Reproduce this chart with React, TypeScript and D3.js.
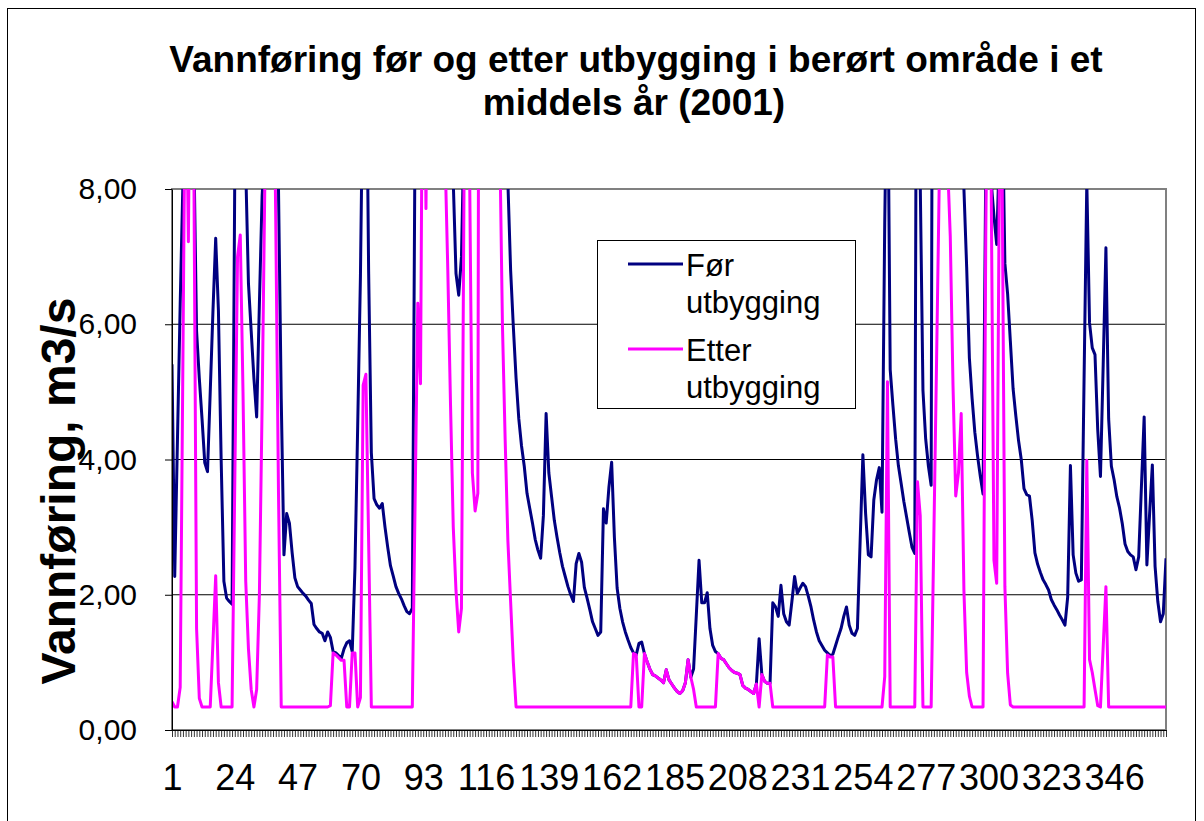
import React, { useRef, useEffect } from "react";
import * as d3 from "d3";

// tekst
const tittel = ["Vannføring før og etter utbygging i berørt område i et", "middels år (2001)"];
const yTittel = "Vannføring, m3/s";
const legendeTekst = [["Før", "utbygging"], ["Etter", "utbygging"]];
const yTicks = [0, 2, 4, 6, 8];
const xLabelStep = 23;

// døgnverdier, m3/s (dag 1..365), lest av figuren
const forUtbygging = [
  5.41, 2.27, 4.3, 6.3, 8.1, 11, 12, 13, 8.6, 5.9,
  5.2, 4.6, 3.95, 3.82, 5.0, 6.2, 7.27, 6.2, 4.0, 2.2,
  1.95, 1.9, 1.86, 8.3, 12, 13, 11, 8.3, 6.6, 5.9,
  5.2, 4.63, 6.3, 7.9, 8.6, 13, 14, 12, 10, 8.0,
  4.9, 2.59, 3.2, 3.06, 2.62, 2.25, 2.12, 2.07, 2.02, 1.98,
  1.92, 1.87, 1.56, 1.5, 1.45, 1.43, 1.32, 1.45, 1.37, 1.16,
  1.14, 1.1, 1.06, 1.2, 1.29, 1.32, 1.16, 2.4, 4.5, 6.7,
  10, 11, 6.8, 4.1, 3.42, 3.33, 3.28, 3.35, 3.0, 2.7,
  2.43, 2.28, 2.12, 2.02, 1.94, 1.84, 1.75, 1.72, 1.8, 8.8,
  14, 15, 13, 12, 14, 16, 15, 14, 13, 12,
  10, 9.5, 9, 8.1, 6.75, 6.43, 7.0, 9, 13, 14,
  15, 13, 16, 26, 17, 15, 14, 13, 12, 11,
  10.5, 10, 9, 8.1, 6.8, 5.96, 5.2, 4.6, 4.2, 3.9,
  3.5, 3.28, 3.06, 2.82, 2.66, 2.54, 3.17, 4.68, 3.8, 3.45,
  3.1, 2.85, 2.62, 2.42, 2.27, 2.12, 2.0, 1.9, 2.46, 2.61,
  2.48, 2.11, 1.95, 1.78, 1.6, 1.5, 1.4, 1.45, 3.27, 3.06,
  3.59, 3.96, 2.85, 2.1, 1.8, 1.6, 1.45, 1.33, 1.22, 1.14,
  1.11, 1.28, 1.3, 1.13, 1.01, 0.9, 0.82, 0.8, 0.77, 0.74,
  0.7, 0.89, 0.74, 0.68, 0.62, 0.57, 0.54, 0.58, 0.7, 1.04,
  0.78, 0.9, 1.7, 2.51, 1.88, 1.88, 2.03, 1.5, 1.25, 1.16,
  1.13, 1.06, 1.04, 0.98, 0.92, 0.88, 0.85, 0.84, 0.82, 0.66,
  0.62, 0.6, 0.57, 0.54, 0.68, 1.35, 0.82, 0.72, 0.69, 0.69,
  1.88, 1.82, 1.68, 2.14, 1.72, 1.6, 1.55, 1.9, 2.27, 2.02,
  2.1, 2.17, 2.12, 1.98, 1.82, 1.62, 1.45, 1.32, 1.25, 1.18,
  1.14, 1.1, 1.12, 1.25, 1.38, 1.5, 1.68, 1.82, 1.55, 1.43,
  1.4, 1.5, 2.8, 4.07, 3.2, 2.59, 2.56, 3.4, 3.7, 3.88,
  3.22, 7.5, 10.4, 5.33, 4.8, 4.3, 3.91, 3.65, 3.38, 3.15,
  2.92, 2.7, 2.61, 16, 8.1, 5.02, 4.3, 3.9, 3.62, 20,
  18, 16, 15, 14, 13, 12, 12, 11, 10, 9.5,
  8.0, 6.85, 5.5, 4.9, 4.4, 4.05, 3.75, 3.49, 8.3, 13,
  8.1, 7.6, 7.18, 8.6, 9.5, 6.9, 6.45, 5.75, 5.05, 4.65,
  4.28, 4.0, 3.57, 3.48, 3.46, 3.1, 2.62, 2.45, 2.33, 2.22,
  2.15, 2.07, 1.93, 1.85, 1.78, 1.7, 1.63, 1.55, 1.97, 3.91,
  2.59, 2.32, 2.2, 2.22, 5.2, 8.1, 6.02, 5.65, 5.55, 4.44,
  3.75, 5.4, 7.13, 4.6, 3.9, 3.7, 3.45, 3.28, 3.05, 2.75,
  2.64, 2.59, 2.56, 2.37, 2.56, 3.6, 4.63, 2.44, 3.2, 3.92,
  2.42, 1.9, 1.6, 1.72, 2.54,
];

const etterUtbygging = [
  0.42, 0.34, 0.34, 0.63, 5.5, 10.5, 7.22, 12, 8.4, 1.5,
  0.47, 0.34, 0.34, 0.34, 0.34, 1.3, 2.28, 0.7, 0.34, 0.34,
  0.34, 0.34, 0.34, 3.7, 7.0, 7.32, 5.0, 2.2, 1.2, 0.6,
  0.34, 0.6, 2.0, 4.8, 8.1, 12, 13, 11, 7.5, 3.5,
  0.34, 0.34, 0.34, 0.34, 0.34, 0.34, 0.34, 0.34, 0.34, 0.34,
  0.34, 0.34, 0.34, 0.34, 0.34, 0.34, 0.34, 0.34, 0.36, 1.14,
  1.11, 1.07, 1.03, 1.03, 0.34, 0.34, 1.14, 1.14, 0.34, 0.48,
  5.1, 5.26, 2.8, 0.34, 0.34, 0.34, 0.34, 0.34, 0.34, 0.34,
  0.34, 0.34, 0.34, 0.34, 0.34, 0.34, 0.34, 0.34, 0.34, 3.3,
  6.31, 5.12, 12, 7.71, 12, 14, 14, 13, 12, 11,
  8.5, 6.8, 4.8, 3.0, 2.06, 1.45, 1.8, 8.5, 12, 8.2,
  3.8, 3.24, 3.5, 25, 15, 14, 13, 12, 11, 10,
  8.8, 6.0, 4.3, 2.8, 1.9, 1.0, 0.34, 0.34, 0.34, 0.34,
  0.34, 0.34, 0.34, 0.34, 0.34, 0.34, 0.34, 0.34, 0.34, 0.34,
  0.34, 0.34, 0.34, 0.34, 0.34, 0.34, 0.34, 0.34, 0.34, 0.34,
  0.34, 0.34, 0.34, 0.34, 0.34, 0.34, 0.34, 0.34, 0.34, 0.34,
  0.34, 0.34, 0.34, 0.34, 0.34, 0.34, 0.34, 0.34, 0.34, 1.13,
  1.11, 0.34, 0.34, 1.13, 1.01, 0.9, 0.82, 0.8, 0.77, 0.74,
  0.7, 0.89, 0.74, 0.68, 0.62, 0.57, 0.54, 0.58, 0.7, 1.04,
  0.78, 0.6, 0.34, 0.34, 0.34, 0.34, 0.34, 0.34, 0.34, 0.34,
  1.13, 1.06, 1.04, 0.98, 0.92, 0.88, 0.85, 0.84, 0.82, 0.66,
  0.62, 0.6, 0.57, 0.54, 0.68, 0.34, 0.82, 0.72, 0.69, 0.69,
  0.34, 0.34, 0.34, 0.34, 0.34, 0.34, 0.34, 0.34, 0.34, 0.34,
  0.34, 0.34, 0.34, 0.34, 0.34, 0.34, 0.34, 0.34, 0.34, 0.34,
  1.11, 1.08, 1.08, 0.34, 0.34, 0.34, 0.34, 0.34, 0.34, 0.34,
  0.34, 0.34, 0.34, 0.34, 0.34, 0.34, 0.34, 0.34, 0.34, 0.34,
  0.34, 0.79, 5.15, 0.34, 0.34, 0.34, 0.34, 0.34, 0.34, 0.34,
  0.34, 0.34, 0.34, 3.67, 3.17, 0.34, 0.34, 0.34, 0.34, 2.9,
  5.5, 8.2, 12, 11, 8.4, 7.3, 5.1, 3.46, 3.8, 4.68,
  2.06, 0.85, 0.5, 0.34, 0.34, 0.34, 0.34, 0.34, 7.3, 12,
  8.0, 2.51, 2.17, 8.4, 8.2, 2.12, 0.84, 0.37, 0.34, 0.34,
  0.34, 0.34, 0.34, 0.34, 0.34, 0.34, 0.34, 0.34, 0.34, 0.34,
  0.34, 0.34, 0.34, 0.34, 0.34, 0.34, 0.34, 0.34, 0.34, 0.34,
  0.34, 0.34, 0.34, 0.34, 0.34, 3.99, 1.04, 0.85, 0.6, 0.36,
  0.34, 1.23, 2.12, 0.34, 0.34, 0.34, 0.34, 0.34, 0.34, 0.34,
  0.34, 0.34, 0.34, 0.34, 0.34, 0.34, 0.34, 0.34, 0.34, 0.34,
  0.34, 0.34, 0.34, 0.34, 0.34,
];

const FONT = "'Liberation Sans', Arial, Helvetica, sans-serif";
const BLA = "#000080";
const ROSA = "#ff00ff";

const W = 1204, H = 821;
const plot = { left: 172, right: 1166, top: 189, bottom: 730 };

export default function App() {
  const xAxisRef = useRef<SVGGElement>(null);
  const yAxisRef = useRef<SVGGElement>(null);

  const days = d3.range(1, forUtbygging.length + 1);
  const x = d3.scaleLinear().domain([1, days.length]).range([plot.left, plot.right]);
  const y = d3.scaleLinear().domain([0, 8]).range([plot.bottom, plot.top]);

  const linje = d3.line<number>().x((d, i) => x(i + 1)).y(d => y(d));

  useEffect(() => {
    const xAxis = d3.axisBottom(x)
      .tickValues(days)
      .tickSize(7)
      .tickSizeOuter(0)
      .tickPadding(27)
      .tickFormat((d: any) => ((d - 1) % xLabelStep === 0 ? String(d) : ""));
    const gx = d3.select(xAxisRef.current).call(xAxis as any);
    gx.select(".domain").attr("stroke", "#000");
    gx.selectAll(".tick line").attr("stroke", "#000").attr("stroke-width", 0.8);
    gx.selectAll("text").attr("font-size", 36).attr("font-family", FONT).attr("fill", "#000");

    const yAxis = d3.axisLeft(y)
      .tickValues(yTicks)
      .tickSize(7)
      .tickSizeOuter(0)
      .tickPadding(28)
      .tickFormat((d: any) => d3.format(".2f")(d).replace(".", ","));
    const gy = d3.select(yAxisRef.current).call(yAxis as any);
    gy.select(".domain").attr("stroke", "#000");
    gy.selectAll(".tick line").attr("stroke", "#000");
    gy.selectAll("text").attr("font-size", 30).attr("font-family", FONT).attr("fill", "#000");
  }, []);

  return (
    <svg width={W} height={H} style={{ position: "absolute", left: 0, top: 0, background: "#fff" }}>
      <defs>
        <clipPath id="plotClip">
          <rect x={plot.left} y={plot.top} width={plot.right - plot.left} height={plot.bottom - plot.top} />
        </clipPath>
      </defs>
      <rect x={7.5} y={8.5} width={1188} height={830} fill="#fff" stroke="#000" strokeWidth={1} />

      {/* tittel */}
      <text x={636} y={72} textAnchor="middle" fontFamily={FONT} fontWeight="bold" fontSize={37}>{tittel[0]}</text>
      <text x={634} y={115} textAnchor="middle" fontFamily={FONT} fontWeight="bold" fontSize={37}>{tittel[1]}</text>

      {/* rutenett */}
      {yTicks.filter(t => t > 0 && t < 8).map(t => (
        <line key={t} x1={plot.left} x2={plot.right} y1={y(t)} y2={y(t)} stroke="#000" strokeWidth={1} />
      ))}
      <rect x={plot.left} y={plot.top} width={plot.right - plot.left} height={plot.bottom - plot.top}
        fill="none" stroke="#808080" strokeWidth={2} />

      <g clipPath="url(#plotClip)">
        <path d={linje(forUtbygging) || ""} fill="none" stroke={BLA} strokeWidth={3} strokeLinejoin="round" />
        <path d={linje(etterUtbygging) || ""} fill="none" stroke={ROSA} strokeWidth={3} strokeLinejoin="round" />
      </g>

      <g ref={xAxisRef} transform={`translate(0,${plot.bottom})`} />
      <g ref={yAxisRef} transform={`translate(${plot.left},0)`} />

      {/* y-akse tittel */}
      <text transform={`translate(75,491) rotate(-90)`} textAnchor="middle" fontFamily={FONT}
        fontWeight="bold" fontSize={48}>{yTittel}</text>

      {/* legende */}
      <rect x={597.5} y={240.5} width={258} height={168} fill="#fff" stroke="#000" strokeWidth={1} />
      {legendeTekst.map((linjer, i) => (
        <g key={i}>
          <line x1={628} x2={683} y1={264 + i * 85} y2={264 + i * 85} stroke={i === 0 ? BLA : ROSA} strokeWidth={3} />
          {linjer.map((t, j) => (
            <text key={j} x={686} y={276 + i * 85 + j * 37} fontFamily={FONT} fontSize={31}>{t}</text>
          ))}
        </g>
      ))}
    </svg>
  );
}
